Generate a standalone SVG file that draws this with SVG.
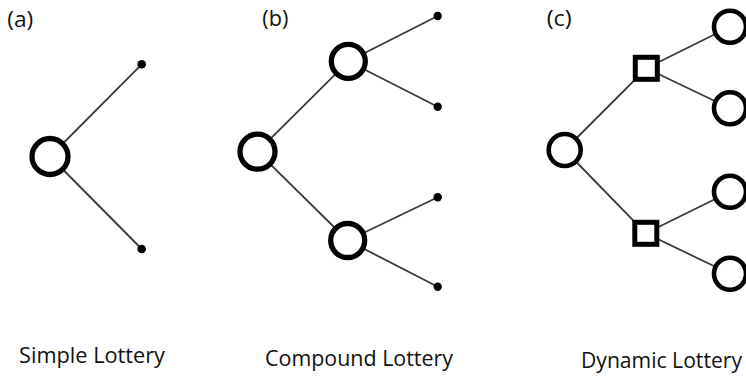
<svg xmlns="http://www.w3.org/2000/svg" width="746" height="377" viewBox="0 0 746 377">
<style>
.edge{stroke:#3a3a3a;stroke-width:1.8;fill:none}
.chance{fill:#fff;stroke:#000;stroke-width:5.3}
.chance-s{fill:#fff;stroke:#000;stroke-width:4.6}
.dec{fill:#fff;stroke:#000;stroke-width:5}
.leaf{fill:#000}
text{font-family:"Open Sans","Liberation Sans",sans-serif;fill:#111;font-size:22.5px}
</style>
<rect width="746" height="377" fill="#fff"/>
<g id="connectors">
<line class="edge" x1="50" y1="156.5" x2="141.7" y2="64.3"/>
<line class="edge" x1="50" y1="156.5" x2="141.7" y2="249"/>
<line class="edge" x1="257.5" y1="151.7" x2="348.3" y2="61.3"/>
<line class="edge" x1="257.5" y1="151.7" x2="347.7" y2="240.5"/>
<line class="edge" x1="348.3" y1="61.3" x2="437.7" y2="16"/>
<line class="edge" x1="348.3" y1="61.3" x2="437.7" y2="106.7"/>
<line class="edge" x1="347.7" y1="240.5" x2="437.7" y2="197.3"/>
<line class="edge" x1="347.7" y1="240.5" x2="437.7" y2="286.7"/>
<line class="edge" x1="564.7" y1="150" x2="646.3" y2="68.3"/>
<line class="edge" x1="564.7" y1="150" x2="645.8" y2="233.3"/>
<line class="edge" x1="646.3" y1="68.3" x2="730" y2="26.7"/>
<line class="edge" x1="646.3" y1="68.3" x2="730" y2="108.3"/>
<line class="edge" x1="645.8" y1="233.3" x2="730" y2="191.7"/>
<line class="edge" x1="645.8" y1="233.3" x2="730" y2="273.8"/>
</g>
<g id="a-root"><circle class="chance" cx="50" cy="156.5" r="18"/></g>
<g id="a-leaf1"><circle class="leaf" cx="141.7" cy="64.3" r="4.3"/></g>
<g id="a-leaf2"><circle class="leaf" cx="141.7" cy="249" r="4.3"/></g>
<g id="b-root"><circle class="chance" cx="257.5" cy="151.7" r="17.5"/></g>
<g id="b-up"><circle class="chance" cx="348.3" cy="61.3" r="17"/></g>
<g id="b-down"><circle class="chance" cx="347.7" cy="240.5" r="17"/></g>
<g id="b-leaf1"><circle class="leaf" cx="437.7" cy="16" r="4.2"/></g>
<g id="b-leaf2"><circle class="leaf" cx="437.7" cy="106.7" r="4.2"/></g>
<g id="b-leaf3"><circle class="leaf" cx="437.7" cy="197.3" r="4.2"/></g>
<g id="b-leaf4"><circle class="leaf" cx="437.7" cy="286.7" r="4.2"/></g>
<g id="c-root"><circle class="chance-s" cx="564.7" cy="150" r="16"/></g>
<g id="c-dec1"><rect class="dec" x="635.3" y="57.3" width="22" height="22"/></g>
<g id="c-dec2"><rect class="dec" x="634.8" y="222.3" width="22" height="22"/></g>
<g id="c-out1"><circle class="chance-s" cx="730" cy="26.7" r="16"/></g>
<g id="c-out2"><circle class="chance-s" cx="730" cy="108.3" r="16"/></g>
<g id="c-out3"><circle class="chance-s" cx="730" cy="191.7" r="16"/></g>
<g id="c-out4"><circle class="chance-s" cx="730" cy="273.8" r="16"/></g>
<g id="labels">
<text x="7.3" y="27" textLength="26" lengthAdjust="spacingAndGlyphs">(a)</text>
<text x="262.3" y="26" textLength="26" lengthAdjust="spacingAndGlyphs">(b)</text>
<text x="546.7" y="26" textLength="25" lengthAdjust="spacingAndGlyphs">(c)</text>
<text x="19" y="362.7" textLength="146" lengthAdjust="spacingAndGlyphs">Simple Lottery</text>
<text x="265" y="366" textLength="188" lengthAdjust="spacingAndGlyphs">Compound Lottery</text>
<text x="581" y="368" style="font-size:21px" textLength="161" lengthAdjust="spacingAndGlyphs">Dynamic Lottery</text>
</g>
</svg>
